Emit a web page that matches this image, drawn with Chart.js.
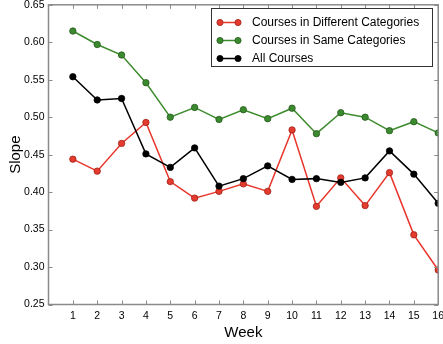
<!DOCTYPE html>
<html>
<head>
<meta charset="utf-8">
<script src="https://cdn.jsdelivr.net/npm/chart.js@4/dist/chart.umd.min.js"></script>
<style>
  html, body { margin: 0; padding: 0; background: #fff; }
  #wrap { width: 443px; height: 344px; }
</style>
</head>
<body>
<div id="wrap"><canvas id="chart" width="443" height="344"></canvas></div>
<script>
const weeks = [1, 2, 3, 4, 5, 6, 7, 8, 9, 10, 11, 12, 13, 14, 15, 16];
const diffCategories = [0.444, 0.428, 0.465, 0.493, 0.414, 0.392, 0.401, 0.411, 0.401, 0.483, 0.381, 0.419, 0.382, 0.426, 0.343, 0.296];
const sameCategories = [0.615, 0.597, 0.583, 0.546, 0.500, 0.513, 0.497, 0.510, 0.498, 0.512, 0.478, 0.506, 0.500, 0.482, 0.494, 0.479];
const allCourses = [0.554, 0.523, 0.525, 0.451, 0.433, 0.459, 0.408, 0.418, 0.435, 0.417, 0.418, 0.413, 0.419, 0.455, 0.424, 0.385];
const yTicks = [0.25, 0.30, 0.35, 0.40, 0.45, 0.50, 0.55, 0.60, 0.65];

const seriesStyle = [
    { label: 'Courses in Different Categories', data: diffCategories, line: '#e8362c', fill: '#e53a2e', edge: '#9e2218', order: 2 },
    { label: 'Courses in Same Categories', data: sameCategories, line: '#3d8b2d', fill: '#3b8a2f', edge: '#245a1b', order: 1 },
    { label: 'All Courses', data: allCourses, line: '#000000', fill: '#000000', edge: '#000000', order: 0 }
];

const FONT = '"Liberation Sans", Arial, Helvetica, sans-serif';

// frame, inward ticks on all four sides, and the legend box
const framePlugin = {
    id: 'frame',
    afterDatasetsDraw(chart) {
        const { ctx, chartArea: a, scales } = chart;
        ctx.save();
        ctx.strokeStyle = '#8a8a8a';
        ctx.lineWidth = 1;
        const t = 4;
        ctx.beginPath();
        weeks.forEach(w => {
            const x = Math.round(scales.x.getPixelForValue(w)) + 0.5;
            ctx.moveTo(x, a.bottom); ctx.lineTo(x, a.bottom - t);
            ctx.moveTo(x, a.top); ctx.lineTo(x, a.top + t);
        });
        yTicks.forEach(v => {
            const y = Math.round(scales.y.getPixelForValue(v)) + 0.5;
            ctx.moveTo(a.left, y); ctx.lineTo(a.left + t, y);
            ctx.moveTo(a.right, y); ctx.lineTo(a.right - t, y);
        });
        ctx.stroke();
        ctx.lineWidth = 1.5;
        ctx.strokeRect(a.left, a.top, a.right - a.left, a.bottom - a.top);
        ctx.restore();
    },
    afterDraw(chart) {
        const ctx = chart.ctx;
        const box = { x: 211.5, y: 8.5, w: 221, h: 58 };
        ctx.save();
        ctx.fillStyle = '#ffffff';
        ctx.fillRect(box.x, box.y, box.w, box.h);
        ctx.strokeStyle = '#333333';
        ctx.lineWidth = 1;
        ctx.strokeRect(box.x, box.y, box.w, box.h);
        ctx.font = '12px ' + FONT;
        ctx.textBaseline = 'middle';
        ctx.textAlign = 'left';
        seriesStyle.forEach((s, i) => {
            const y = 22.5 + i * 18;
            ctx.strokeStyle = s.line;
            ctx.lineWidth = 1.5;
            ctx.beginPath();
            ctx.moveTo(220, y); ctx.lineTo(238, y);
            ctx.stroke();
            [220, 238].forEach(x => {
                ctx.beginPath();
                ctx.arc(x, y, 3.1, 0, Math.PI * 2);
                ctx.fillStyle = s.fill;
                ctx.fill();
                ctx.strokeStyle = s.edge;
                ctx.lineWidth = 0.8;
                ctx.stroke();
            });
            ctx.fillStyle = '#000';
            ctx.fillText(s.label, 252, y + 0.5);
        });
        ctx.restore();
    }
};

const datasets = seriesStyle.map(s => ({
    label: s.label,
    data: weeks.map((w, i) => ({ x: w, y: s.data[i] })),
    borderColor: s.line,
    borderWidth: 1.5,
    pointRadius: 3.2,
    pointBackgroundColor: s.fill,
    pointBorderColor: s.edge,
    pointBorderWidth: 0.8,
    tension: 0,
    order: s.order
}));

new Chart(document.getElementById('chart'), {
    type: 'line',
    data: { datasets },
    options: {
        responsive: false,
        animation: false,
        devicePixelRatio: 1,
        layout: { padding: { top: 1, right: 4, left: 0, bottom: 0 } },
        plugins: { legend: { display: false }, tooltip: { enabled: false } },
        scales: {
            x: {
                type: 'linear',
                min: 0,
                max: 16,
                grid: { display: false, drawTicks: false },
                border: { display: false },
                ticks: {
                    stepSize: 1,
                    padding: 5,
                    color: '#000',
                    font: { family: FONT, size: 10.5 },
                    maxRotation: 0,
                    autoSkip: false,
                    callback: v => (v === 0 ? '' : v)
                },
                title: { display: true, text: 'Week', color: '#000', font: { family: FONT, size: 15 }, padding: { top: 0, bottom: 2 } },
                afterFit(scale) {
                    scale.height = 39.5;
                    scale.paddingLeft = 0;
                    scale.paddingRight = 0;
                }
            },
            y: {
                min: 0.25,
                max: 0.65,
                grid: { display: false, drawTicks: false },
                border: { display: false },
                ticks: {
                    stepSize: 0.05,
                    padding: 4,
                    color: '#000',
                    font: { family: FONT, size: 10.5 },
                    callback: v => v.toFixed(2)
                },
                title: { display: true, text: 'Slope', color: '#000', font: { family: FONT, size: 15 }, padding: { top: 6.5, bottom: 0 } },
                afterFit(scale) {
                    scale.width = 48.5;
                    scale.paddingTop = 0;
                    scale.paddingBottom = 0;
                }
            }
        }
    },
    plugins: [framePlugin]
});
</script>
</body>
</html>
